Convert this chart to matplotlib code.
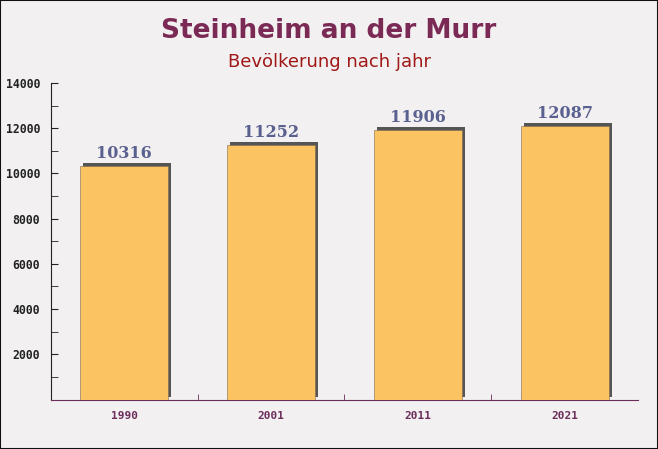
import matplotlib.pyplot as plt
import matplotlib.transforms as mtransforms
from matplotlib.patches import Rectangle

# data
years = ['1990', '2001', '2011', '2021']
population = [10316, 11252, 11906, 12087]

bg = '#f2f0f0'
fig = plt.figure(figsize=(6.58, 4.49), dpi=100, facecolor=bg)
ax = fig.add_axes([0.0775, 0.1102, 0.8921, 0.7049])
ax.set_facecolor('none')

x = list(range(len(years)))

# shadow behind the bars (offset a few pixels right and up)
shadow = ax.transData + mtransforms.ScaledTranslation(3 / 100, 3 / 100, fig.dpi_scale_trans)
ax.bar(x, population, width=0.6, color='#555555', transform=shadow, zorder=2)
ax.bar(x, population, width=0.6, color='#fcc362', edgecolor='#7a6a50', linewidth=0.4, zorder=3)

for xi, val in zip(x, population):
    ax.annotate(str(val), (xi, val), xytext=(0, 3), textcoords='offset points',
                ha='center', va='bottom', fontsize=11.5, fontweight='bold',
                family='DejaVu Serif', color='#5a6090', zorder=4)

ax.set_xlim(-0.5, 3.5)
ax.set_ylim(0, 14000)
ax.set_xticks(x)
ax.set_xticklabels(years, family='DejaVu Sans Mono', fontweight='bold', fontsize=8, color='#6b2d5a')
ax.set_xticks([0.5, 1.5, 2.5], minor=True)
ax.set_yticks(range(2000, 14001, 2000))
ax.set_yticks(range(1000, 14000, 2000), minor=True)
ax.set_yticklabels([str(v) for v in range(2000, 14001, 2000)], family='DejaVu Sans Mono',
                   fontweight='bold', fontsize=8.3, color='#222222')
ax.tick_params(axis='x', which='major', length=0, pad=8)
ax.tick_params(axis='x', which='minor', direction='in', length=4, color='#6b2d5a')
ax.tick_params(axis='y', which='both', direction='in', length=5, color='#222222', pad=8)

for s in ['top', 'right']:
    ax.spines[s].set_visible(False)
ax.spines['left'].set_color('#222222')
ax.spines['bottom'].set_color('#6b2d5a')

fig.text(0.5, 0.931, 'Steinheim an der Murr', ha='center', va='center',
         fontsize=19, fontweight='bold', color='#7b2a55')
fig.text(0.5, 0.862, 'Bevölkerung nach jahr', ha='center', va='center',
         fontsize=13, color='#a01818')

# thin frame round the picture
fig.patches.append(Rectangle((0, 0), 1, 1, transform=fig.transFigure, fill=False,
                             edgecolor='#111111', linewidth=1.5))

plt.savefig('out.png', facecolor=bg)
